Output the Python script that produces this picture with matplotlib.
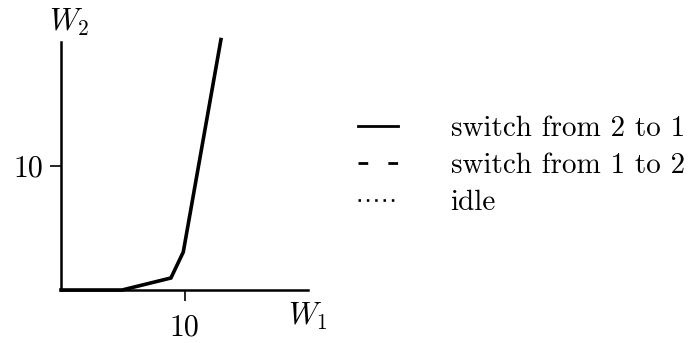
import matplotlib
matplotlib.use('Agg')
import matplotlib.pyplot as plt
from matplotlib.lines import Line2D

plt.rcParams['mathtext.fontset'] = 'cm'
plt.rcParams['axes.formatter.use_mathtext'] = True
plt.rcParams['lines.scale_dashes'] = False

# boundary curve
w1 = [0, 4.95, 8.9, 9.9, 12.95]
w2 = [0, 0, 0.97, 3.06, 20.2]

x_ticks = [10]
y_ticks = [10]
legend_labels = ['switch from 2 to 1', 'switch from 1 to 2', 'idle']

fig = plt.figure(figsize=(6.9, 3.43), dpi=100)
ax = fig.add_axes([0.0884, 0.1545, 0.358, 0.723])

ax.plot(w1, w2, color='black', lw=2.6, solid_joinstyle='miter', clip_on=False)

ax.set_xlim(0, 20)
ax.set_ylim(0, 20)
for s in ['top', 'right']:
    ax.spines[s].set_visible(False)
for s in ['left', 'bottom']:
    ax.spines[s].set_linewidth(1.8)

ax.set_xticks(x_ticks)
ax.set_yticks(y_ticks)
ax.set_xticklabels([str(t) for t in x_ticks], fontfamily='cmr10', fontsize=21.5)
ax.set_yticklabels([str(t) for t in y_ticks], fontfamily='cmr10', fontsize=21.5)
ax.tick_params(axis='x', direction='out', length=8, width=1.2, pad=9)
ax.tick_params(axis='y', direction='out', length=8, width=1.2, pad=5)

fig.text(0.418, 0.078, r'$W_1$', fontsize=22, ha='left', va='center')
fig.text(0.1, 0.935, r'$W_2$', fontsize=22, ha='center', va='center')

handles = [
    Line2D([], [], color='black', lw=2.0, linestyle='-'),
    Line2D([], [], color='black', lw=2.0, linestyle=(0, (7, 14.5))),
    Line2D([], [], color='black', lw=1.9, linestyle=(0, (1.8, 4.2))),
]
fig.legend(handles, legend_labels, loc='center left', bbox_to_anchor=(0.481, 0.516),
           frameon=False, handlelength=1.37, handletextpad=1.8, labelspacing=0.37,
           prop={'family': 'cmr10', 'size': 21})

fig.savefig('out.png', dpi=100)
